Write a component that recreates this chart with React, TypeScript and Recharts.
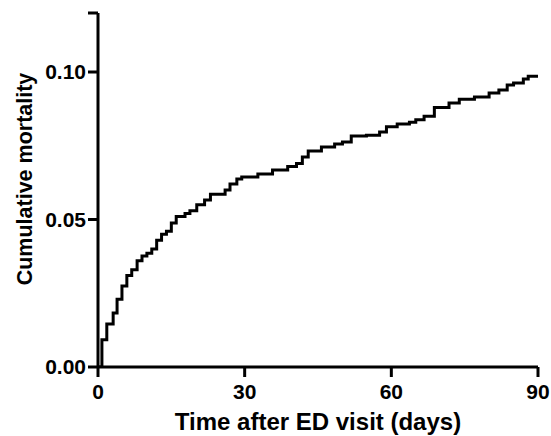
import { LineChart, Line, XAxis, YAxis, Label } from 'recharts';

// days after ED visit where the step changes, and the cumulative mortality from there on
const days = [
  0, 0.8, 1.8, 3.1, 3.9, 4.9, 5.9, 6.9, 8.0, 9.0, 10.0, 11.0, 12.0, 13.0, 14.0, 15.0, 16.0,
  17.8, 18.8, 20.2, 21.8, 23.0, 26.0, 27.0, 28.4, 29.4, 32.7, 35.7, 38.8, 40.6, 41.8, 43.0,
  45.7, 48.4, 50.0, 51.8, 54.9, 57.6, 59.0, 61.2, 63.7, 65.0, 66.7, 68.8, 71.8, 73.9, 77.0,
  80.0, 82.0, 83.7, 85.0, 87.0, 88.0, 90.0,
];
const mortality = [
  0, 0.0092, 0.0146, 0.0183, 0.023, 0.0275, 0.031, 0.033, 0.036, 0.0376, 0.0386, 0.04, 0.043,
  0.045, 0.046, 0.0488, 0.051, 0.052, 0.053, 0.055, 0.0566, 0.0586, 0.06, 0.062, 0.0637, 0.0644,
  0.0654, 0.0668, 0.068, 0.069, 0.0712, 0.0732, 0.0746, 0.0756, 0.0763, 0.0783, 0.0786, 0.0797,
  0.0814, 0.0824, 0.083, 0.0838, 0.085, 0.088, 0.0895, 0.0908, 0.0915, 0.0929, 0.0939, 0.0956,
  0.0963, 0.0976, 0.0986, 0.099,
];
const xTicks = [0, 30, 60, 90];
const yTicks = [0, 0.05, 0.1, 0.12];
const yTickLabels = ['0.00', '0.05', '0.10', ''];

const data = days.map((d, i) => ({ day: d, mortality: mortality[i] }));

const font = 'Arial, "Liberation Sans", sans-serif';
const tickStyle = { fill: '#000', fontSize: 21, fontWeight: 700, fontFamily: font };

const YTitle = ({ viewBox }: any) => {
  const cx = 25;
  const cy = viewBox.y + viewBox.height / 2 - 11;
  return (
    <text
      x={cx}
      y={cy}
      transform={`rotate(-90 ${cx} ${cy})`}
      textAnchor="middle"
      dominantBaseline="central"
      style={{ fontSize: 21.5, fontWeight: 700, fontFamily: font, fill: '#000' }}
    >
      Cumulative mortality
    </text>
  );
};

export default function App() {
  return (
    <div style={{ position: 'absolute', left: 0, top: 0, background: '#fff' }}>
      <LineChart width={551} height={436} data={data} margin={{ top: 13, right: 13, left: 0, bottom: 0 }}>
        <XAxis
          dataKey="day"
          type="number"
          domain={[0, 90]}
          ticks={xTicks}
          allowDataOverflow
          stroke="#000"
          strokeWidth={3}
          tickSize={10}
          tickMargin={7}
          tick={tickStyle}
          height={69}
        >
          <Label
            value="Time after ED visit (days)"
            position="insideBottom"
            offset={6}
            style={{ fontSize: 24, fontWeight: 700, fontFamily: font, fill: '#000' }}
          />
        </XAxis>
        <YAxis
          type="number"
          domain={[0, 0.12]}
          ticks={yTicks}
          allowDataOverflow
          stroke="#000"
          strokeWidth={3}
          tickSize={10}
          tickMargin={2}
          tick={tickStyle}
          tickFormatter={(v: number) => yTickLabels[yTicks.indexOf(v)] ?? ''}
          width={98}
          label={{ content: YTitle }}
        />
        <Line
          type="stepAfter"
          dataKey="mortality"
          stroke="#000"
          strokeWidth={3}
          dot={false}
          isAnimationActive={false}
        />
      </LineChart>
    </div>
  );
}
